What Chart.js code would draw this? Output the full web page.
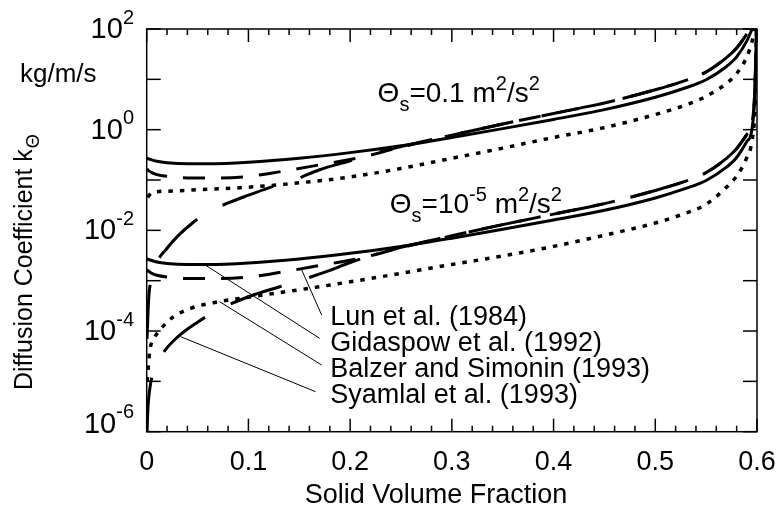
<!DOCTYPE html>
<html>
<head>
<meta charset="utf-8">
<script src="https://cdn.jsdelivr.net/npm/chart.js@4.4.1/dist/chart.umd.min.js"></script>
<style>
  html, body { margin: 0; padding: 0; background: #fff; }
  #c { display: block; }
</style>
</head>
<body>
<canvas id="c" width="780" height="516"></canvas>
<script>
// --- data (solid volume fraction vs k_theta, kg/m/s) ---
// Theta_s = 0.1 m2/s2
const phiGidHi = [0, 0.01, 0.02, 0.04, 0.06, 0.1, 0.15, 0.2, 0.25, 0.3, 0.35, 0.4, 0.45, 0.5, 0.53, 0.55, 0.57, 0.58, 0.59, 0.596];
const kGidHi   = [0.27, 0.235, 0.22, 0.21, 0.21, 0.225, 0.27, 0.35, 0.48, 0.7, 1.05, 1.6, 2.5, 4.4, 6.8, 9.8, 18, 28, 58, 110];

const phiLunHi = [0, 0.005, 0.01, 0.02, 0.04, 0.07, 0.1, 0.13, 0.17, 0.21, 0.25, 0.3, 0.35, 0.4, 0.45, 0.5, 0.53, 0.55, 0.57, 0.58, 0.59, 0.595];
const kLunHi   = [0.165, 0.14, 0.128, 0.118, 0.11, 0.11, 0.118, 0.145, 0.2, 0.28, 0.45, 0.78, 1.3, 2.1, 3.4, 6.2, 9.5, 14, 27, 42, 80, 120];

const phiBalHi = [0.001, 0.005, 0.02, 0.05, 0.1, 0.15, 0.2, 0.25, 0.3, 0.35, 0.4, 0.45, 0.5, 0.53, 0.55, 0.57, 0.58, 0.59, 0.595, 0.599];
const kBalHi   = [0.045, 0.056, 0.06, 0.064, 0.072, 0.088, 0.115, 0.17, 0.27, 0.43, 0.7, 1.1, 2.0, 3.1, 4.6, 8.3, 13, 28, 55, 120];

const phiSyaHi = [0.0003, 0.002, 0.005, 0.01, 0.02, 0.03, 0.045, 0.06, 0.08, 0.1, 0.12, 0.145, 0.17, 0.2, 0.22, 0.25, 0.3, 0.35, 0.4, 0.45, 0.5, 0.53, 0.55, 0.57, 0.58, 0.59, 0.595];
const kSyaHi   = [7e-5, 4.5e-4, 1.1e-3, 2.3e-3, 4.4e-3, 7.5e-3, 1.4e-2, 2.3e-2, 3.5e-2, 5e-2, 7e-2, 0.1, 0.16, 0.24, 0.32, 0.46, 0.78, 1.3, 2.1, 3.4, 6.2, 9.5, 14, 27, 42, 80, 120];

// Theta_s = 1e-5 m2/s2
const phiGidLo = [0, 0.01, 0.02, 0.04, 0.06, 0.1, 0.15, 0.2, 0.25, 0.3, 0.35, 0.4, 0.45, 0.5, 0.53, 0.55, 0.57, 0.58, 0.59, 0.595, 0.598, 0.5995];
const kGidLo   = [2.7e-3, 2.35e-3, 2.2e-3, 2.1e-3, 2.1e-3, 2.25e-3, 2.7e-3, 3.5e-3, 4.8e-3, 7e-3, 0.0105, 0.016, 0.025, 0.044, 0.068, 0.098, 0.18, 0.28, 0.58, 1.0, 6, 100];

const phiLunLo = [0, 0.005, 0.01, 0.02, 0.04, 0.07, 0.1, 0.13, 0.17, 0.21, 0.25, 0.3, 0.35, 0.4, 0.45, 0.5, 0.53, 0.55, 0.57, 0.58, 0.59, 0.595, 0.598, 0.5995];
const kLunLo   = [1.65e-3, 1.4e-3, 1.28e-3, 1.18e-3, 1.1e-3, 1.1e-3, 1.18e-3, 1.45e-3, 2e-3, 2.8e-3, 4.5e-3, 7.8e-3, 0.013, 0.021, 0.034, 0.062, 0.095, 0.14, 0.27, 0.42, 0.8, 1.3, 7, 100];

const phiBalLo = [0.0005, 0.003, 0.007, 0.013, 0.026, 0.045, 0.07, 0.1, 0.15, 0.2, 0.25, 0.3, 0.35, 0.4, 0.45, 0.5, 0.53, 0.55, 0.57, 0.58, 0.59, 0.595, 0.598, 0.5995];
const kBalLo   = [1e-5, 4e-5, 7e-5, 1.05e-4, 1.9e-4, 2.9e-4, 3.8e-4, 4.7e-4, 6.6e-4, 9.5e-4, 1.4e-3, 2.1e-3, 3.1e-3, 4.8e-3, 8e-3, 0.014, 0.022, 0.033, 0.072, 0.12, 0.28, 0.6, 3, 100];

const phiSyaLo = [0.0004, 0.001, 0.003, 0.008, 0.015, 0.03, 0.05, 0.07, 0.1, 0.13, 0.15, 0.18, 0.2, 0.22, 0.25, 0.3, 0.35, 0.4, 0.45, 0.5, 0.53, 0.55, 0.57, 0.58, 0.59, 0.595, 0.598, 0.5995];
const kSyaLo   = [1e-6, 2.4e-6, 7e-6, 1.8e-5, 3.4e-5, 7.5e-5, 1.5e-4, 2.6e-4, 4.8e-4, 7.5e-4, 1e-3, 1.6e-3, 2.3e-3, 3.1e-3, 4.6e-3, 7.8e-3, 0.013, 0.021, 0.034, 0.062, 0.095, 0.14, 0.27, 0.42, 0.8, 1.3, 7, 100];

// axes
const xTickLabels = ['0', '0.1', '0.2', '0.3', '0.4', '0.5', '0.6'];
const yTickExps = [2, 0, -2, -4, -6];
const modelNames = ['Lun et al. (1984)', 'Gidaspow et al. (1992)', 'Balzer and Simonin (1993)', 'Syamlal et al. (1993)'];

// leader lines: point on curve -> label (data units)
const leaders = [
    [[0.1517, 10 ** -2.754], [0.172, 10 ** -3.682]],
    [[0.0576, 10 ** -2.689], [0.170, 10 ** -4.145]],
    [[0.0717, 10 ** -3.418], [0.172, 10 ** -4.675]],
    [[0.0335, 10 ** -4.113], [0.166, 10 ** -5.205]]
];
const labelX = 0.1805;
const labelBaselines = [10 ** -3.88, 10 ** -4.397, 10 ** -4.913, 10 ** -5.43];

const FONT = '"Liberation Sans", Arial, Helvetica, sans-serif';

function series(xs, ys, dash, width) {
    return {
        data: xs.map((v, i) => ({ x: v, y: ys[i] })),
        borderColor: '#000',
        borderWidth: width || 3,
        borderDash: dash,
        borderCapStyle: 'butt',
        pointRadius: 0,
        fill: false,
        cubicInterpolationMode: 'monotone',
        clip: 0
    };
}

const LUN = [22, 16], SYA = [54, 29], BAL = [4.5, 7];

// --- ticks, frame, labels drawn on top of the plot ---
const decor = {
    id: 'decor',
    afterDatasetsDraw(chart) {
        const { ctx, chartArea: a, scales: { x, y } } = chart;
        const seg = (x1, y1, x2, y2) => { ctx.beginPath(); ctx.moveTo(x1, y1); ctx.lineTo(x2, y2); ctx.stroke(); };
        ctx.save();
        ctx.strokeStyle = '#000';
        ctx.fillStyle = '#000';
        ctx.setLineDash([]);

        // frame
        ctx.lineWidth = 1.5;
        ctx.strokeRect(a.left, a.top, a.right - a.left, a.bottom - a.top);

        // x ticks, inside, top and bottom
        for (let i = 0; i <= 30; i++) {
            const px = x.getPixelForValue(i * 0.02);
            const len = i % 5 === 0 ? 13 : 6;
            seg(px, a.bottom, px, a.bottom - len);
            seg(px, a.top, px, a.top + len);
        }
        // y ticks every decade, inside, left and right
        for (let e = -6; e <= 2; e++) {
            const py = y.getPixelForValue(Math.pow(10, e));
            seg(a.left, py, a.left + 14, py);
            seg(a.right, py, a.right - 14, py);
        }

        // x tick labels
        ctx.font = '27px ' + FONT;
        ctx.textAlign = 'center';
        ctx.textBaseline = 'middle';
        xTickLabels.forEach((t, i) => ctx.fillText(t, x.getPixelForValue(i * 0.1), a.bottom + 31));

        // y tick labels 10^n
        yTickExps.forEach(e => {
            let py = y.getPixelForValue(Math.pow(10, e));
            if (e === -6) py -= 8;
            ctx.textAlign = 'right';
            ctx.textBaseline = 'middle';
            ctx.font = '20px ' + FONT;
            const sup = String(e);
            const w = ctx.measureText(sup).width;
            ctx.fillText(sup, 134, py - 11);
            ctx.font = '29px ' + FONT;
            ctx.fillText('10', 134 - w, py + 1);
        });

        // x title
        ctx.font = '27px ' + FONT;
        ctx.textAlign = 'center';
        ctx.textBaseline = 'alphabetic';
        ctx.fillText('Solid Volume Fraction', 436, 503);

        // units
        ctx.font = '26px ' + FONT;
        ctx.textAlign = 'left';
        ctx.fillText('kg/m/s', 20, 82);

        // y title (rotated) with subscript theta
        ctx.save();
        ctx.translate(32, 390);
        ctx.rotate(-Math.PI / 2);
        ctx.font = '25px ' + FONT;
        ctx.fillText('Diffusion Coefficient k', 0, 0);
        const wk = ctx.measureText('Diffusion Coefficient k').width;
        ctx.font = '18px ' + FONT;
        ctx.fillText('\u0398', wk + 1, 7);
        ctx.restore();

        // rich text helper: parts of [text, kind] where kind is '', 'sub', 'sup'
        const rich = (parts, px, py, size) => {
            let cx = px;
            ctx.textAlign = 'left';
            ctx.textBaseline = 'alphabetic';
            parts.forEach(([t, kind]) => {
                const s = kind ? Math.round(size * 0.72) : size;
                ctx.font = s + 'px ' + FONT;
                const dy = kind === 'sub' ? size * 0.32 : kind === 'sup' ? -size * 0.42 : 0;
                ctx.fillText(t, cx, py + dy);
                cx += ctx.measureText(t).width;
            });
        };
        rich([['\u0398', ''], ['s', 'sub'], ['=0.1 m', ''], ['2', 'sup'], ['/s', ''], ['2', 'sup']],
            x.getPixelForValue(0.227), y.getPixelForValue(10 ** 0.555), 28);
        rich([['\u0398', ''], ['s', 'sub'], ['=10', ''], ['-5', 'sup'], [' m', ''], ['2', 'sup'], ['/s', ''], ['2', 'sup']],
            x.getPixelForValue(0.239), y.getPixelForValue(10 ** -1.655), 28);

        // leader lines and model names
        ctx.lineWidth = 1;
        leaders.forEach(([p, q]) => seg(x.getPixelForValue(p[0]), y.getPixelForValue(p[1]),
                                         x.getPixelForValue(q[0]), y.getPixelForValue(q[1])));
        ctx.font = '27px ' + FONT;
        ctx.textAlign = 'left';
        ctx.textBaseline = 'alphabetic';
        modelNames.forEach((n, i) => ctx.fillText(n, x.getPixelForValue(labelX), y.getPixelForValue(labelBaselines[i])));

        ctx.restore();
    }
};

new Chart(document.getElementById('c'), {
    type: 'line',
    data: {
        datasets: [
            series(phiGidHi, kGidHi, []),
            series(phiLunHi, kLunHi, LUN),
            series(phiBalHi, kBalHi, BAL, 3.5),
            series(phiSyaHi, kSyaHi, SYA),
            series(phiGidLo, kGidLo, []),
            series(phiLunLo, kLunLo, LUN),
            series(phiBalLo, kBalLo, BAL, 3.5),
            series(phiSyaLo, kSyaLo, SYA)
        ]
    },
    options: {
        responsive: false,
        animation: false,
        devicePixelRatio: 1,
        layout: { padding: { top: 29, right: 23, left: 0, bottom: 0 } },
        plugins: { legend: { display: false }, tooltip: { enabled: false } },
        scales: {
            x: {
                type: 'linear', min: 0, max: 0.6,
                grid: { display: false }, border: { display: false },
                ticks: { display: false },
                afterFit: s => { s.height = 84.3; }
            },
            y: {
                type: 'logarithmic', min: 1e-6, max: 100,
                grid: { display: false }, border: { display: false },
                ticks: { display: false },
                afterFit: s => { s.width = 146.7; }
            }
        }
    },
    plugins: [decor]
});
</script>
</body>
</html>
